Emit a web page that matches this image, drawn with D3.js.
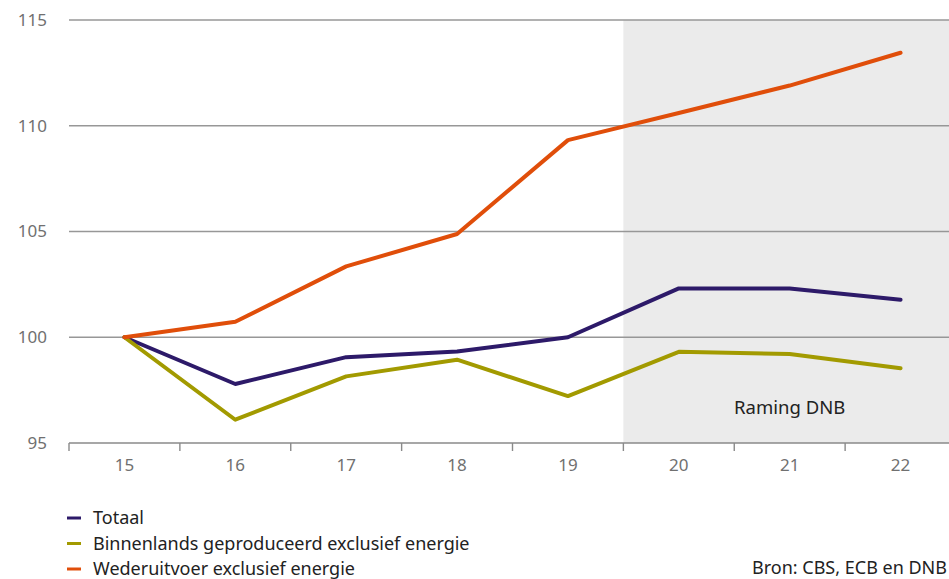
<!DOCTYPE html>
<html>
<head>
<meta charset="utf-8">
<script src="https://cdn.jsdelivr.net/npm/d3@7"></script>
<style>
  html, body { margin: 0; padding: 0; background: #fff; }
  svg { display: block; font-family: "Noto Sans", "Open Sans", sans-serif; }
</style>
</head>
<body>
<svg id="chart" width="949" height="579"></svg>
<script>
// Years (2015–2022) on the category axis
const years = ["15", "16", "17", "18", "19", "20", "21", "22"];
// Index values, 2015 = 100
const totaal = [100, 97.79, 99.06, 99.33, 100, 102.31, 102.31, 101.77];
const binnenlands = [100, 96.1, 98.15, 98.94, 97.22, 99.31, 99.21, 98.53];
const wederuitvoer = [100, 100.73, 103.35, 104.88, 109.32, 110.6, 111.9, 113.45];
const yTicks = [95, 100, 105, 110, 115];
const seriesNames = ["Totaal", "Binnenlands geproduceerd exclusief energie", "Wederuitvoer exclusief energie"];
const forecastStart = "20";
const forecastLabel = "Raming DNB";
const sourceText = "Bron: CBS, ECB en DNB";

const colors = ["#2d1a69", "#a29a00", "#e04e0a"];
const series = [totaal, binnenlands, wederuitvoer];

const svg = d3.select("#chart");
const plotLeft = 69, plotRight = 956, plotTop = 20, plotBottom = 443;

const x = d3.scaleBand().domain(years).range([plotLeft, plotRight]);
const y = d3.scaleLinear().domain([95, 115]).range([plotBottom, plotTop]);

// Forecast shading
const shadeX = x(forecastStart);
svg.append("rect")
  .attr("x", shadeX).attr("y", plotTop)
  .attr("width", plotRight - shadeX).attr("height", plotBottom - plotTop)
  .attr("fill", "#ebebeb");

// Horizontal grid lines
svg.append("g").selectAll("line")
  .data(yTicks.filter(d => d !== 95))
  .join("line")
  .attr("x1", plotLeft).attr("x2", plotRight)
  .attr("y1", d => y(d)).attr("y2", d => y(d))
  .attr("stroke", "#979797").attr("stroke-width", 1.4);

// Y axis labels
svg.append("g").selectAll("text")
  .data(yTicks)
  .join("text")
  .attr("x", 47).attr("y", d => y(d))
  .attr("dy", "0.35em")
  .attr("text-anchor", "end")
  .attr("fill", "#707070")
  .attr("font-size", 17)
  .text(d => d);

// X axis with tick marks at category boundaries
const xAxis = svg.append("g").attr("transform", `translate(0,${plotBottom})`);
xAxis.append("line")
  .attr("x1", plotLeft).attr("x2", plotRight)
  .attr("stroke", "#8a8a8a").attr("stroke-width", 1.4);
xAxis.selectAll("line.tick")
  .data(years)
  .join("line")
  .attr("class", "tick")
  .attr("x1", d => x(d)).attr("x2", d => x(d))
  .attr("y1", 0).attr("y2", 8)
  .attr("stroke", "#8a8a8a").attr("stroke-width", 1.4);
xAxis.selectAll("text")
  .data(years)
  .join("text")
  .attr("x", d => x(d) + x.bandwidth() / 2)
  .attr("y", 22)
  .attr("dy", "0.35em")
  .attr("text-anchor", "middle")
  .attr("fill", "#707070")
  .attr("font-size", 17)
  .text(d => d);

// Forecast label
svg.append("text")
  .attr("x", x("21") + x.bandwidth() / 2)
  .attr("y", 414)
  .attr("text-anchor", "middle")
  .attr("fill", "#222")
  .attr("font-size", 18.5)
  .text(forecastLabel);

// Lines
const line = d3.line()
  .x((d, i) => x(years[i]) + x.bandwidth() / 2)
  .y(d => y(d));

series.forEach((s, i) => {
  svg.append("path")
    .datum(s)
    .attr("d", line)
    .attr("fill", "none")
    .attr("stroke", colors[i])
    .attr("stroke-width", 4)
    .attr("stroke-linejoin", "round")
    .attr("stroke-linecap", "round");
});

// Legend
const legend = svg.append("g");
seriesNames.forEach((name, i) => {
  const ly = 518 + i * 25.5;
  legend.append("line")
    .attr("x1", 67).attr("x2", 81)
    .attr("y1", ly).attr("y2", ly)
    .attr("stroke", colors[i]).attr("stroke-width", 3);
  legend.append("text")
    .attr("x", 93).attr("y", ly)
    .attr("dy", "0.35em")
    .attr("fill", "#222")
    .attr("font-size", 18)
    .text(name);
});

// Source
svg.append("text")
  .attr("x", 947).attr("y", 574)
  .attr("text-anchor", "end")
  .attr("fill", "#222")
  .attr("font-size", 18)
  .text(sourceText);
</script>
</body>
</html>
